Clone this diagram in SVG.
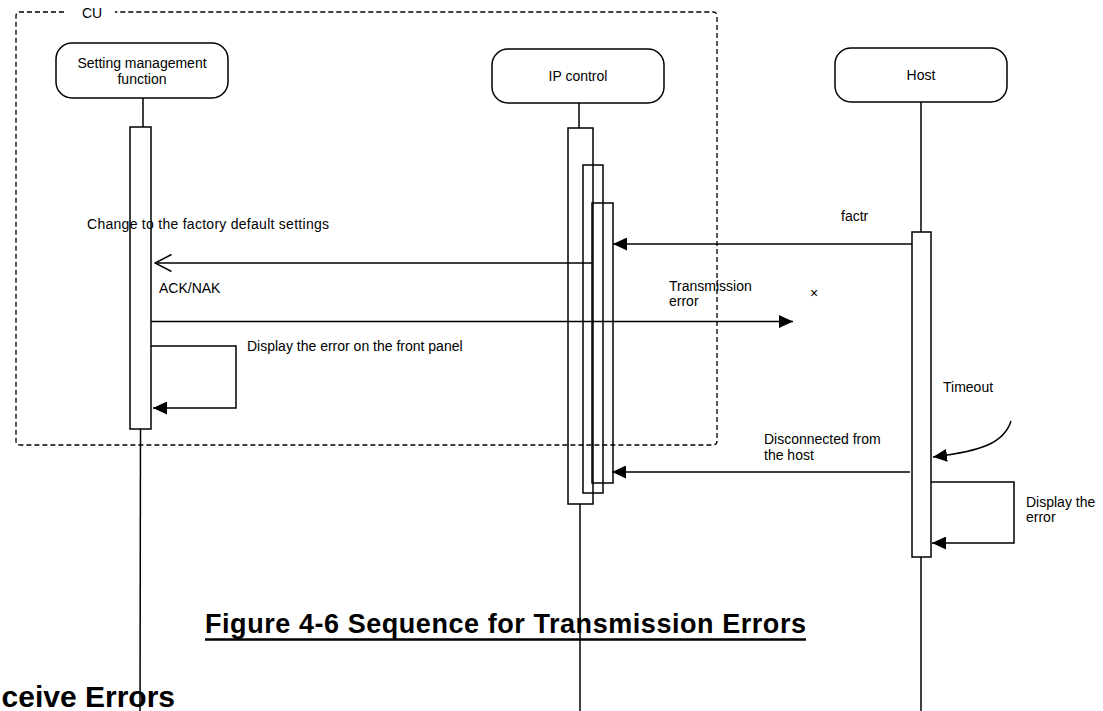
<svg xmlns="http://www.w3.org/2000/svg" width="1103" height="711" viewBox="0 0 1103 711">
<style>
  .t { font-family: "Liberation Sans", Arial, sans-serif; font-size: 14px; fill: #000; }
  .node { fill: #fff; stroke: #000; stroke-width: 1.5; }
  .act { fill: none; stroke: #000; stroke-width: 1.5; }
  .life { stroke: #000; stroke-width: 1.5; fill: none; }
  .msg { stroke: #000; stroke-width: 1.5; fill: none; }
  .title { font-family: "Liberation Sans", Arial, sans-serif; font-weight: bold; fill: #000; }
</style>
<defs>
  <marker id="fill" markerUnits="userSpaceOnUse" markerWidth="15" markerHeight="13" refX="14" refY="6.5" orient="auto">
    <path d="M0,0 L14,6.5 L0,13 z" fill="#000"/>
  </marker>
  <marker id="open" markerUnits="userSpaceOnUse" markerWidth="19" markerHeight="19" refX="17.5" refY="9" orient="auto">
    <path d="M1,0.5 L17.5,9 L1,17.5" fill="none" stroke="#000" stroke-width="1.5"/>
  </marker>
</defs>
<rect width="1103" height="711" fill="#fff"/>

<g id="titles">
  <text class="title" x="175" y="707" font-size="30" text-anchor="end">ceive Errors</text>
  <text class="title" x="205" y="633" font-size="27" textLength="601" lengthAdjust="spacing">Figure 4-6 Sequence for Transmission Errors</text>
  <line x1="205" y1="639.5" x2="806" y2="639.5" stroke="#000" stroke-width="2.5"/>
</g>

<g id="cu-frame">
  <path d="M64,12 H20 Q16,12 16,16 V441 Q16,445 20,445 H713 Q717,445 717,441 V16 Q717,12 713,12 H115" fill="none" stroke="#000" stroke-width="1.3" stroke-dasharray="5,3"/>
  <text class="t" x="82" y="18">CU</text>
</g>

<g id="setting">
  <rect class="node" x="56" y="43" width="172" height="55" rx="16"/>
  <text class="t" x="142" y="68" text-anchor="middle">Setting management</text>
  <text class="t" x="142" y="84" text-anchor="middle">function</text>
  <line class="life" x1="143" y1="98" x2="143" y2="127"/>
  <rect class="act" x="130" y="127" width="21" height="302"/>
  <line class="life" x1="140.5" y1="429" x2="140" y2="711"/>
</g>

<g id="ipcontrol">
  <rect class="node" x="492" y="49" width="172" height="54" rx="16"/>
  <text class="t" x="578" y="81" text-anchor="middle">IP control</text>
  <line class="life" x1="579" y1="103" x2="579" y2="128"/>
  <rect class="act" x="568" y="128" width="25" height="376"/>
  <rect class="act" x="583" y="165" width="20" height="328"/>
  <rect class="act" x="592" y="203" width="21" height="280"/>
  <line class="life" x1="580" y1="504" x2="580" y2="711"/>
</g>

<g id="host">
  <rect class="node" x="835" y="48" width="172" height="54" rx="16"/>
  <text class="t" x="921" y="80" text-anchor="middle">Host</text>
  <line class="life" x1="921" y1="102" x2="921" y2="232"/>
  <rect class="act" x="912" y="232" width="19" height="325"/>
  <line class="life" x1="921" y1="557" x2="921" y2="711"/>
</g>

<g id="connectors">
  <line class="msg" x1="912" y1="244" x2="613" y2="244" marker-end="url(#fill)"/>
  <line class="msg" x1="592" y1="263" x2="155" y2="263" marker-end="url(#open)"/>
  <line class="msg" x1="151" y1="321.5" x2="793" y2="321.5" marker-end="url(#fill)"/>
  <path class="msg" d="M151,346 H236 V408 H153" marker-end="url(#fill)"/>
  <path class="msg" d="M1011,421 C1004,443 982,451 933,457" marker-end="url(#fill)"/>
  <line class="msg" x1="910" y1="472" x2="612" y2="472" marker-end="url(#fill)"/>
  <path class="msg" d="M931,482 H1014 V543 H932" marker-end="url(#fill)"/>
</g>

<g id="labels">
  <text class="t" x="841" y="221">factr</text>
  <text class="t" x="87" y="229" textLength="242" lengthAdjust="spacing">Change to the factory default settings</text>
  <text class="t" x="159" y="293">ACK/NAK</text>
  <text class="t" x="669" y="291">Transmission</text>
  <text class="t" x="669" y="306">error</text>
  <text class="t" x="814" y="298" font-size="11" text-anchor="middle">×</text>
  <text class="t" x="247" y="351" font-size="12.6">Display the error on the front panel</text>
  <text class="t" x="943" y="392">Timeout</text>
  <text class="t" x="764" y="444">Disconnected from</text>
  <text class="t" x="764" y="460">the host</text>
  <text class="t" x="1026" y="507">Display the</text>
  <text class="t" x="1026" y="522">error</text>
</g>
</svg>
